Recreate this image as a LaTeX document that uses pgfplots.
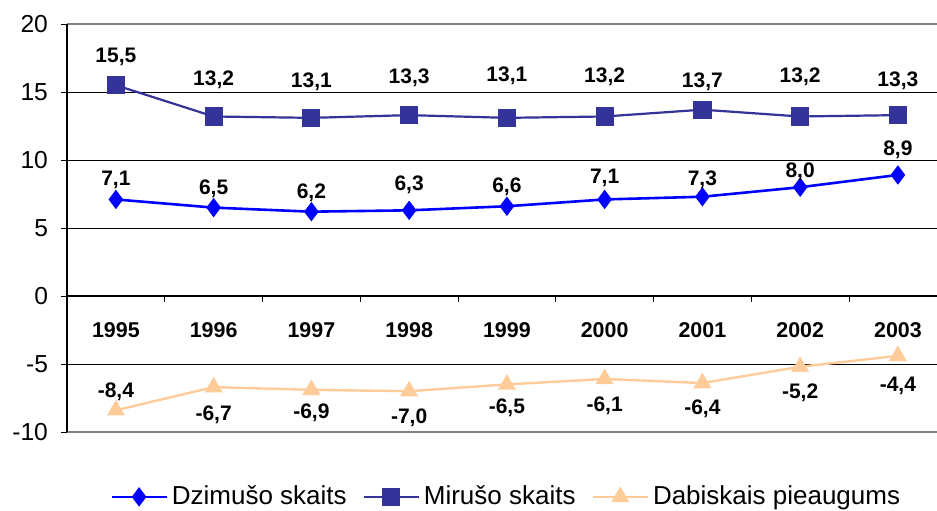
\documentclass[border=0pt]{standalone}
\usepackage{pgfplots}
\pgfplotsset{compat=1.18}
\usepackage{fontspec}
\setmainfont{Liberation Sans}
\definecolor{dzim}{RGB}{0,0,255}
\definecolor{mir}{RGB}{51,51,153}
\definecolor{dab}{RGB}{255,204,153}
\definecolor{frame}{RGB}{128,128,128}

% x = category index (0 = 1995), dy = label offset in pt
\pgfplotstableread{
x y lab dy
0 7.1 7,1 10
1 6.5 6,5 9.5
2 6.2 6,2 9.5
3 6.3 6,3 13
4 6.6 6,6 9.5
5 7.1 7,1 11
6 7.3 7,3 8.5
7 8.0 8,0 7.5
8 8.9 8,9 12.5
}\dzimusu

\pgfplotstableread{
x y lab dy
0 15.5 15,5 14
1 13.2 13,2 18.5
2 13.1 13,1 18
3 13.3 13,3 18.5
4 13.1 13,1 21
5 13.2 13,2 20
6 13.7 13,7 14
7 13.2 13,2 20
8 13.3 13,3 17
}\mirusu

\pgfplotstableread{
x y lab dy
0 -8.4 -8,4 9
1 -6.7 -6,7 -14
2 -6.9 -6,9 -11.5
3 -7.0 -7,0 -13.5
4 -6.5 -6,5 -11.5
5 -6.1 -6,1 -13.5
6 -6.4 -6,4 -13
7 -5.2 -5,2 -13
8 -4.4 -4,4 -15
}\pieaugums

\begin{document}
\begin{tikzpicture}
\begin{axis}[
    scale only axis,
    width=435pt, height=204pt,
    xmin=-0.5, xmax=8.4,
    ymin=-10, ymax=20,
    ytick={-10,-5,0,5,10,15,20},
    xtick=\empty,
    ytick pos=left,
    tick align=outside,
    major tick length=3pt,
    tick style={black, line width=0.5pt},
    axis line style={draw=none},
    ymajorgrids,
    grid style={black, line width=0.5pt},
    /pgf/number format/assume math mode=true,
    yticklabel style={font=\fontsize{12.3}{12.3}\selectfont, xshift=-3pt},
    clip=false,
    point meta=explicit symbolic,
    nodes near coords,
    nodes near coords align={anchor=center},
    visualization depends on={\thisrow{dy} \as \dy},
    nodes near coords style={anchor=center, yshift=\dy pt, font=\bfseries\fontsize{10.5}{10.5}\selectfont, text=black},
    legend columns=3,
    legend style={at={(0.506,-0.159)}, anchor=center, draw=none, fill=none,
        font=\fontsize{13}{13}\selectfont,
        /tikz/every even column/.append style={column sep=6pt}},
    legend image code/.code={
        \draw[mark repeat=2, mark phase=2] plot coordinates {(0pt,0pt) (13.75pt,0pt) (27.5pt,0pt)};
    },
]
\addplot[color=dzim, line width=1.3pt, mark=diamond*, mark size=3.8pt, mark options={solid}]
    table[x=x, y=y, meta=lab] {\dzimusu};
\addlegendentry{Dzimušo skaits}
\addplot[color=mir, line width=1.1pt, mark=square*, mark size=4pt, mark options={solid}]
    table[x=x, y=y, meta=lab] {\mirusu};
\addlegendentry{Mirušo skaits}
\addplot[color=dab, line width=1.2pt, mark=triangle*, mark size=4pt, mark options={solid}]
    table[x=x, y=y, meta=lab] {\pieaugums};
\addlegendentry{Dabiskais pieaugums}

% frame and zero axis
\draw[frame, line width=1pt] (rel axis cs:0,1) -- (rel axis cs:1,1);
\draw[frame, line width=1pt] (rel axis cs:0,0) -- (rel axis cs:1,0);
\draw[black, line width=0.9pt] (rel axis cs:0,0) -- (rel axis cs:0,1);
\draw[black, line width=0.6pt] (axis cs:-0.5,0) -- (axis cs:8.4,0);
\pgfplotsinvokeforeach{0.5,1.5,2.5,3.5,4.5,5.5,6.5,7.5}{
    \draw[black, line width=0.5pt] (axis cs:#1,0) -- ++(0pt,-3pt);
}

% category names
\node[font=\bfseries\fontsize{10.7}{10.7}\selectfont] at (axis cs:0,-2.5) {1995};
\node[font=\bfseries\fontsize{10.7}{10.7}\selectfont] at (axis cs:1,-2.5) {1996};
\node[font=\bfseries\fontsize{10.7}{10.7}\selectfont] at (axis cs:2,-2.5) {1997};
\node[font=\bfseries\fontsize{10.7}{10.7}\selectfont] at (axis cs:3,-2.5) {1998};
\node[font=\bfseries\fontsize{10.7}{10.7}\selectfont] at (axis cs:4,-2.5) {1999};
\node[font=\bfseries\fontsize{10.7}{10.7}\selectfont] at (axis cs:5,-2.5) {2000};
\node[font=\bfseries\fontsize{10.7}{10.7}\selectfont] at (axis cs:6,-2.5) {2001};
\node[font=\bfseries\fontsize{10.7}{10.7}\selectfont] at (axis cs:7,-2.5) {2002};
\node[font=\bfseries\fontsize{10.7}{10.7}\selectfont] at (axis cs:8,-2.5) {2003};
\coordinate (sw) at (rel axis cs:0,0);
\coordinate (ne) at (rel axis cs:1,1);
\end{axis}
\pgfresetboundingbox
\useasboundingbox ([xshift=-33.5pt, yshift=-39pt]sw) rectangle ([yshift=12pt]ne);
\end{tikzpicture}
\end{document}
